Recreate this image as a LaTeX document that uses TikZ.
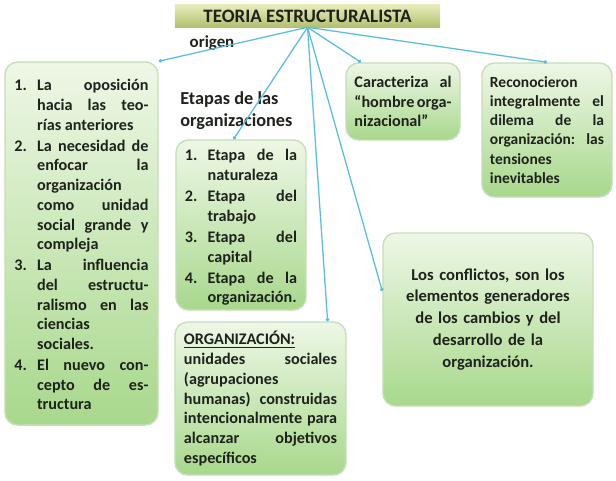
\documentclass[tikz,border=0pt]{standalone}
\usepackage{fontspec}
\setmainfont{Carlito}
\usetikzlibrary{arrows.meta}
\definecolor{conector}{RGB}{88,190,218}
\definecolor{bordeverde}{RGB}{198,222,186}
\definecolor{verdeclaro}{RGB}{238,247,230}
\definecolor{verdeoscuro}{RGB}{168,216,140}
\definecolor{olivaclaro}{RGB}{232,236,186}
\definecolor{olivaoscuro}{RGB}{178,192,112}
\definecolor{tinta}{RGB}{30,34,28}
\newcommand{\punto}[2]{\par\noindent\makebox[1.4em][l]{\strut#1.}%
  \parbox[t]{\dimexpr\hsize-1.4em\relax}{\strut#2\strut}\par}
\tikzset{
  caja/.style={draw=bordeverde, line width=1pt, rounded corners=9pt,
    top color=verdeclaro, bottom color=verdeoscuro, text=tinta,
    font=\bfseries\fontsize{11.5}{14}\selectfont, align=justify, inner sep=0pt},
  rotulo/.style={text=tinta, font=\bfseries\fontsize{13}{15.6}\selectfont, inner sep=0pt},
  enlace/.style={draw=conector, line width=0.9pt, -{Circle[length=2.5pt]}},
}
\begin{document}
\begin{tikzpicture}[x=0.025cm, y=-0.025cm]
  \useasboundingbox (0,0) rectangle (616,480);
  \node[rotulo, top color=olivaclaro, bottom color=olivaoscuro,
    minimum width=6.625cm, minimum height=0.55cm, font=\bfseries\fontsize{13.5}{15}\selectfont]
    (titulo) at (307.5,16) {TEORIA ESTRUCTURALISTA};
  \node[rotulo, font=\bfseries\fontsize{12}{14}\selectfont] (origen) at (212,43) {origen};
  \node[rotulo, anchor=north west, align=left] (tituloetapas) at (180,91)
    {Etapas de las\\organizaciones};
  \node[caja, minimum width=3.825cm, minimum height=9.075cm, text width=3.35cm]
    (antecedentes) at (81.5,243.5) {%
    \punto{1}{La oposición\linebreak hacia las teo-\linebreak rías anteriores}
    \punto{2}{La necesidad de\linebreak enfocar la\linebreak organización\linebreak como unidad\linebreak social grande y\linebreak compleja}
    \punto{3}{La influencia\linebreak del estructu-\linebreak ralismo en las\linebreak ciencias\linebreak sociales.}
    \punto{4}{El nuevo con-\linebreak cepto de es-\linebreak tructura}};
  \node[caja, minimum width=3.25cm, minimum height=4.25cm, text width=2.8cm]
    (etapas) at (241,225) {%
    \punto{1}{Etapa de la\linebreak naturaleza}
    \punto{2}{Etapa del\linebreak trabajo}
    \punto{3}{Etapa del\linebreak capital}
    \punto{4}{Etapa de la\linebreak organización.}};
  \node[caja, minimum width=4.275cm, minimum height=3.825cm, text width=3.825cm]
    (organizacion) at (260.5,398.5) {%
    \underline{ORGANIZACIÓN:}\\
    unidades sociales\linebreak (agrupaciones\linebreak humanas) construidas\linebreak
    intencionalmente para\linebreak alcanzar objetivos\linebreak específicos};
  \node[caja, minimum width=2.85cm, minimum height=1.925cm, text width=2.425cm]
    (hombre) at (403,101.5) {Caracteriza al\linebreak “hombre orga-\linebreak nizacional”};
  \node[caja, minimum width=3.25cm, minimum height=3.35cm, text width=2.85cm,
    font=\bfseries\fontsize{11}{13.6}\selectfont]
    (dilema) at (547,130) {Reconocieron\linebreak integralmente el\linebreak dilema de la\linebreak
    organización: las\linebreak tensiones\linebreak inevitables};
  \node[caja, minimum width=5.25cm, minimum height=4.325cm, text width=4.5cm, align=center,
    font=\bfseries\fontsize{11.8}{15.6}\selectfont]
    (conflictos) at (488,319.5) {Los conflictos, son los\\elementos generadores\\de los cambios y del\\
    desarrollo de la\\organización.};
  \draw[enlace] (titulo.south) -- (antecedentes.north east);
  \draw[enlace] (titulo.south) -- (etapas.95);
  \draw[enlace] (titulo.south) -- (organizacion.49);
  \draw[enlace] (titulo.south) -- (conflictos.165);
  \draw[enlace] (titulo.south) -- (hombre.137);
  \draw[enlace] (titulo.south) -- (dilema.north);
\end{tikzpicture}
\end{document}
